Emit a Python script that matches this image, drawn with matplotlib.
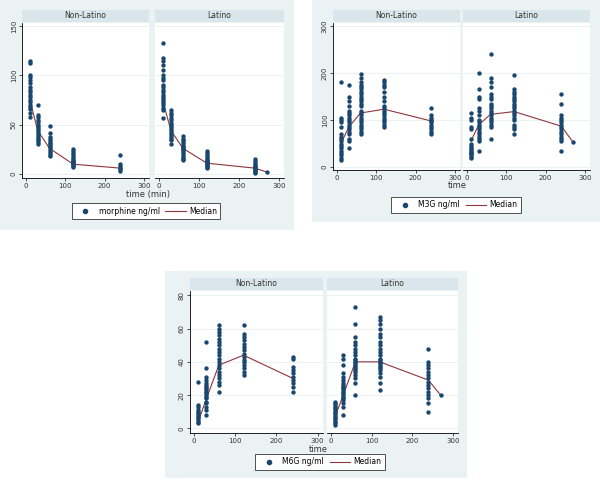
import matplotlib
matplotlib.use("Agg")
import matplotlib.pyplot as plt
from matplotlib.patches import Rectangle
from matplotlib.lines import Line2D

# ---------------------------------------------------------------------------
# Data
# ---------------------------------------------------------------------------
times = [10, 30, 60, 120, 240]
times_latino = [10, 30, 60, 120, 240, 270]

morph_nonlatino = [
    [115, 112, 100, 98, 95, 92, 88, 85, 83, 80, 78, 75, 73, 70, 68, 66, 62, 58],
    [70, 60, 58, 55, 53, 50, 48, 46, 44, 42, 40, 38, 36, 34, 32, 30],
    [49, 42, 38, 35, 33, 31, 30, 28, 27, 25, 23, 21, 19, 18],
    [25, 23, 21, 19, 17, 15, 14, 13, 12, 11, 10, 9, 8, 7],
    [19, 10, 8, 6, 5, 3],
]
morph_latino = [
    [133, 118, 115, 110, 105, 100, 97, 95, 90, 88, 85, 83, 80, 78, 76, 74, 72, 70, 67, 65, 57],
    [65, 62, 60, 57, 55, 52, 50, 48, 46, 44, 42, 40, 38, 36, 34, 30],
    [39, 36, 34, 32, 30, 28, 27, 26, 25, 24, 22, 20, 18, 16, 15, 14],
    [23, 21, 19, 17, 15, 14, 13, 12, 11, 10, 9, 8, 7, 6],
    [15, 13, 11, 9, 8, 7, 6, 5, 4, 3, 2, 1],
    [2],
]
morph_median_nonlatino = [75, 44, 26, 10, 6]
morph_median_latino = [73, 44, 26, 11, 6, 2]

m3g_nonlatino = [
    [180, 105, 100, 95, 85, 70, 65, 60, 55, 50, 45, 40, 35, 30, 25, 20, 15],
    [175, 150, 140, 130, 120, 115, 110, 105, 100, 95, 90, 85, 80, 75, 70, 60, 55, 40],
    [198, 190, 180, 175, 170, 165, 160, 155, 150, 145, 140, 135, 130, 120, 115,
     110, 105, 100, 95, 90, 85, 80, 75, 70],
    [185, 180, 175, 170, 160, 150, 140, 130, 125, 120, 115, 110, 105, 100, 95, 90, 85],
    [125, 110, 105, 100, 97, 95, 90, 85, 80, 75, 70],
]
m3g_latino = [
    [115, 105, 100, 85, 80, 60, 50, 45, 40, 38, 35, 32, 30, 28, 25, 22, 20],
    [200, 165, 150, 145, 125, 120, 110, 100, 95, 90, 85, 80, 75, 70, 65, 60, 55, 35],
    [240, 190, 180, 170, 155, 150, 145, 135, 130, 125, 120, 115, 110, 105, 100,
     95, 90, 85, 60],
    [195, 165, 160, 155, 150, 145, 140, 135, 130, 125, 120, 115, 110, 105, 100,
     90, 85, 80, 70],
    [155, 135, 110, 105, 100, 95, 90, 85, 80, 75, 70, 65, 60, 55, 35],
    [53],
]
m3g_median_nonlatino = [50, 85, 115, 123, 98]
m3g_median_latino = [55, 90, 112, 118, 87, 53]

m6g_nonlatino = [
    [28, 14, 13, 11, 10, 9, 8, 7, 6, 5, 4, 3],
    [52, 36, 31, 29, 27, 26, 25, 24, 23, 22, 21, 20, 19, 18, 16, 15, 13, 11, 8],
    [62, 60, 58, 56, 54, 52, 50, 48, 46, 44, 42, 40, 38, 36, 34, 32, 30, 28, 26, 22],
    [62, 57, 55, 53, 51, 49, 47, 45, 43, 41, 40, 38, 36, 34, 32],
    [43, 42, 37, 35, 33, 31, 29, 27, 25, 22],
]
m6g_latino = [
    [16, 15, 14, 13, 12, 11, 10, 9, 8, 7, 6, 5, 4, 3, 2],
    [44, 42, 38, 33, 31, 29, 27, 26, 25, 24, 23, 22, 21, 20, 19, 18, 17, 15, 13, 8],
    [73, 63, 55, 52, 50, 48, 46, 44, 42, 41, 40, 39, 38, 37, 36, 35, 34, 32, 30, 27, 20],
    [67, 65, 63, 60, 57, 55, 52, 50, 48, 46, 44, 42, 41, 40, 39, 38, 37, 36, 35,
     33, 31, 27, 23],
    [48, 40, 38, 36, 34, 32, 30, 28, 26, 24, 22, 20, 18, 15, 10],
    [20],
]
m6g_median_nonlatino = [4, 18, 38, 44, 30]
m6g_median_latino = [7, 20, 40, 40, 29, 20]

group_titles = ["Non-Latino", "Latino"]

# ---------------------------------------------------------------------------
# Style
# ---------------------------------------------------------------------------
W, H = 600, 480
BG = "#eaf2f3"
STRIP = "#d9e6eb"
NAVY = "#1a476f"
MAROON = "#90353b"

fig = plt.figure(figsize=(W / 100, H / 100), dpi=100)
fig.patch.set_facecolor("white")


def px_axes(l, t, r, b, **kw):
    return fig.add_axes([l / W, 1 - b / H, (r - l) / W, (b - t) / H], **kw)


def draw_panel(bg, facets, ylim, yticks, data, medians, xlabel, xlabel_pos,
               legend_label, legend_pos):
    fig.add_artist(Rectangle((bg[0] / W, 1 - bg[3] / H), (bg[2] - bg[0]) / W,
                             (bg[3] - bg[1]) / H, transform=fig.transFigure,
                             facecolor=BG, edgecolor="none", zorder=-5))
    for i, (plot_box, strip_box) in enumerate(facets):
        ax = px_axes(*plot_box)
        ax.set_facecolor("white")
        tms = times if i == 0 else times_latino
        for t, vals in zip(tms, data[i]):
            ax.scatter([t] * len(vals), vals, s=10, color=NAVY, zorder=3,
                       linewidths=0)
        ax.plot(tms, medians[i], color=MAROON, lw=0.8, zorder=2)
        ax.set_xlim(-10, 313)
        ax.set_ylim(*ylim)
        ax.set_xticks([0, 100, 200, 300])
        ax.set_yticks(yticks)
        for y in yticks:
            ax.axhline(y, color=BG, lw=0.7, zorder=0)
        for s in ["top", "right"]:
            ax.spines[s].set_visible(False)
        ax.spines["bottom"].set_linewidth(0.6)
        ax.spines["left"].set_linewidth(0.6)
        ax.tick_params(labelsize=5, length=2.5, width=0.6, pad=1.2,
                       colors="#333333")
        if i == 0:
            for lab in ax.get_yticklabels():
                lab.set_rotation(90)
                lab.set_va("center")
        else:
            ax.spines["left"].set_visible(False)
            ax.tick_params(axis="y", left=False, labelleft=False)

        sax = px_axes(*strip_box)
        sax.set_facecolor(STRIP)
        sax.set_xticks([])
        sax.set_yticks([])
        for s in sax.spines.values():
            s.set_visible(False)
        sax.text(0.5, 0.5, group_titles[i], ha="center", va="center",
                 fontsize=5.5, color="#333333", transform=sax.transAxes)

    fig.text(xlabel_pos[0] / W, 1 - xlabel_pos[1] / H, xlabel, ha="center",
             va="center", fontsize=6, color="#333333")
    handles = [Line2D([], [], ls="", marker="o", markersize=3, color=NAVY),
               Line2D([], [], color=MAROON, lw=0.8)]
    leg = fig.legend(handles, [legend_label, "Median"], loc="center",
                     bbox_to_anchor=(legend_pos[0] / W, 1 - legend_pos[1] / H),
                     bbox_transform=fig.transFigure, ncol=2, fontsize=5.5,
                     frameon=True, fancybox=False, handlelength=2.7,
                     columnspacing=0.7, handletextpad=0.4, borderpad=0.45,
                     borderaxespad=0, framealpha=1)
    leg.get_frame().set_edgecolor("#333333")
    leg.get_frame().set_linewidth(0.6)


draw_panel(bg=(0, 0, 294, 230),
           facets=[((22, 23, 149, 178), (22, 10, 149, 22)),
                   ((155, 23, 284, 178), (155, 10, 284, 22))],
           ylim=(-4, 153), yticks=[0, 50, 100, 150],
           data=[morph_nonlatino, morph_latino],
           medians=[morph_median_nonlatino, morph_median_latino],
           xlabel="time (min)", xlabel_pos=(148, 195),
           legend_label="morphine ng/ml", legend_pos=(146, 211))

draw_panel(bg=(312, 0, 600, 222),
           facets=[((333, 23, 460, 170), (333, 10, 460, 22)),
                   ((463, 23, 590, 170), (463, 10, 590, 22))],
           ylim=(-6, 306), yticks=[0, 100, 200, 300],
           data=[m3g_nonlatino, m3g_latino],
           medians=[m3g_median_nonlatino, m3g_median_latino],
           xlabel="time", xlabel_pos=(457, 186),
           legend_label="M3G ng/ml", legend_pos=(456, 205))

draw_panel(bg=(165, 271, 467, 478),
           facets=[((190, 291, 323, 433), (190, 278, 323, 290)),
                   ((327, 291, 458, 433), (327, 278, 458, 290))],
           ylim=(-2.8, 82.6), yticks=[0, 20, 40, 60, 80],
           data=[m6g_nonlatino, m6g_latino],
           medians=[m6g_median_nonlatino, m6g_median_latino],
           xlabel="time", xlabel_pos=(318, 449),
           legend_label="M6G ng/ml", legend_pos=(320, 462))

fig.savefig("out.png", dpi=100, facecolor="white")
